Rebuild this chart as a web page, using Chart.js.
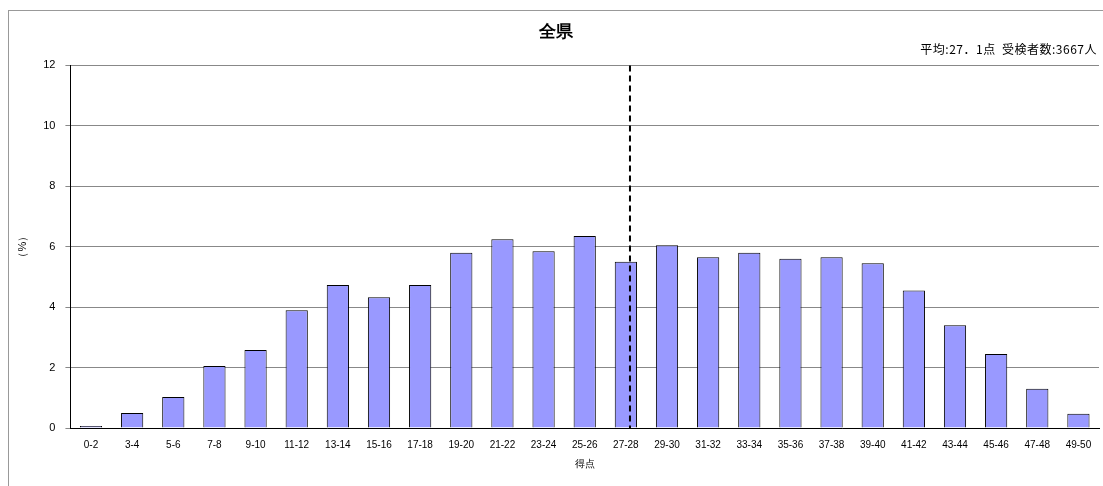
<!DOCTYPE html>
<html lang="ja">
<head>
<meta charset="UTF-8">
<script src="https://cdn.jsdelivr.net/npm/chart.js"></script>
<style>
    body { margin: 0; background: #fff; font-family: 'Noto Sans CJK JP', sans-serif; }
    .frame { position: absolute; left: 8px; top: 10px; width: 1100px; height: 480px; border-left: 1px solid #999; border-top: 1px solid #999; }
    .wrap { position: absolute; left: 10px; top: 12px; width: 1093px; height: 462px; }
    .info { position: absolute; right: 6px; top: 40px; font-size: 12px; letter-spacing: 0.5px; color: #000; font-family: 'Noto Sans CJK JP'; }
</style>
</head>
<body>
<div class="frame"></div>
<div class="wrap"><canvas id="chart"></canvas></div>
<div class="info">平均:27．1点 &nbsp;受検者数:3667人</div>
<script>
const categories = ['0-2','3-4','5-6','7-8','9-10','11-12','13-14','15-16','17-18','19-20','21-22','23-24','25-26','27-28','29-30','31-32','33-34','35-36','37-38','39-40','41-42','43-44','45-46','47-48','49-50'];
const percents = [0.07,0.5,1.03,2.05,2.58,3.9,4.73,4.33,4.73,5.8,6.25,5.85,6.35,5.5,6.05,5.65,5.8,5.6,5.65,5.45,4.55,3.4,2.45,1.3,0.47];
const yTicks = [0,2,4,6,8,10,12];
const meanIndex = 13.1; // 平均点の位置（カテゴリ番号）

const meanLine = {
    id: 'meanLine',
    afterDatasetsDraw(chart) {
        const x = chart.scales.x, y = chart.scales.y;
        const step = x.getPixelForValue(1) - x.getPixelForValue(0);
        const base = Math.floor(meanIndex);
        const px = x.getPixelForValue(base) + (meanIndex - base) * step;
        const c = chart.ctx;
        c.save();
        c.strokeStyle = '#000';
        c.lineWidth = 2;
        c.setLineDash([6, 4]);
        c.beginPath();
        c.moveTo(px, y.getPixelForValue(12));
        c.lineTo(px, y.getPixelForValue(0));
        c.stroke();
        c.restore();
    }
};

new Chart(document.getElementById('chart'), {
    type: 'bar',
    data: {
        labels: categories,
        datasets: [{
            data: percents,
            backgroundColor: '#9999ff',
            borderColor: '#000',
            borderWidth: 1,
            categoryPercentage: 0.54,
            barPercentage: 1
        }]
    },
    options: {
        responsive: true,
        maintainAspectRatio: false,
        animation: false,
        layout: { padding: { left: 2, right: 4, top: 0 } },
        plugins: {
            legend: { display: false },
            tooltip: { enabled: false },
            title: { display: true, text: '全県', color: '#000', font: { size: 17, weight: 'bold' }, padding: { top: 10, bottom: 23 } }
        },
        scales: {
            x: {
                grid: { display: false },
                border: { color: '#000' },
                ticks: { color: '#000', font: { size: 10 }, maxRotation: 0, autoSkip: false },
                title: { display: true, text: '得点', color: '#000', font: { size: 10 }, padding: { top: 4 } }
            },
            y: {
                min: 0, max: 12,
                afterBuildTicks(s) { s.ticks = yTicks.map(v => ({ value: v })); },
                grid: { color: '#888', drawTicks: true, tickLength: 5 },
                border: { color: '#000' },
                ticks: { color: '#000', font: { size: 11 }, padding: 10 },
                title: { display: true, text: '（%）', color: '#000', font: { size: 11 } }
            }
        }
    },
    plugins: [meanLine]
});
</script>
</body>
</html>
